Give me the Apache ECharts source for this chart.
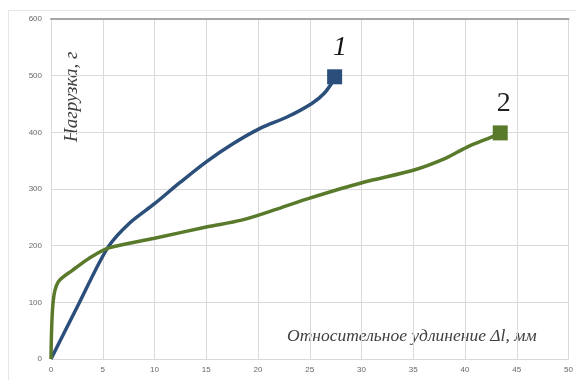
<!DOCTYPE html>
<html><head><meta charset="utf-8">
<script src="https://cdn.jsdelivr.net/npm/echarts@6/dist/echarts.min.js"></script>
<style>html,body{margin:0;padding:0;background:#fff}#c{width:576px;height:380px}</style>
</head><body><div id="c"></div>
<script>
const s1x = [0, 2.7, 5.5, 7.6, 10, 12.5, 15, 17.5, 20.2, 22.8, 25.2, 26.4, 27.3];
const s1y = [0, 98, 197, 240, 274, 312, 348, 379, 407, 427, 451, 469, 492];
const s1end = [27.4, 498];
const s2x = [0, 0.2, 0.7, 2.1, 3.7, 5.6, 10, 15, 18.4, 21.9, 25, 30.2, 35, 38.1, 40.2, 42.6];
const s2y = [0, 100, 136, 157, 178, 196, 213, 233, 245, 265, 284, 312, 333, 354, 374, 392];
const s2end = [43.4, 399];
const xTicks = [0, 5, 10, 15, 20, 25, 30, 35, 40, 45, 50];
const yTicks = [0, 100, 200, 300, 400, 500, 600];
const labels = ['1', '2'];
const xName = 'Относительное удлинение Δl, мм';
const yName = 'Нагрузка, г';

const blue = '#2b4f7a', green = '#5a7a2b';
const chart = echarts.init(document.getElementById('c'));
const pairs = (xs, ys) => xs.map((x, i) => [x, ys[i]]);
const serif = '"Liberation Serif", "DejaVu Serif", serif';
chart.setOption({
  animation: false,
  grid: { left: 51, right: 2, top: 19, bottom: 21 },
  xAxis: [{
    type: 'value', min: 0, max: 50, interval: 5,
    axisLine: { show: false }, axisTick: { show: false },
    axisLabel: { fontSize: 8, color: '#666', margin: 7 },
    splitLine: { lineStyle: { color: '#d9d9d9', width: 1 } }
  }, {
    type: 'value', position: 'top', min: 0, max: 50,
    axisLine: { show: true, onZero: false, lineStyle: { color: '#a6a6a6', width: 2 } },
    axisTick: { show: false }, axisLabel: { show: false }, splitLine: { show: false }
  }],
  yAxis: {
    type: 'value', min: 0, max: 600, interval: 100,
    axisLine: { show: false }, axisTick: { show: false },
    axisLabel: { fontSize: 8, color: '#666', margin: 9 },
    splitLine: { lineStyle: { color: '#d9d9d9', width: 1 } }
  },
  graphic: [
    { type: 'rect', shape: { x: 8.5, y: 10.5, width: 580, height: 380 }, style: { fill: 'none', stroke: '#e6e6e6', lineWidth: 1 }, z: -1 },
    { type: 'text', left: 287, top: 327, style: { text: xName, font: 'italic 17.5px ' + serif, fill: '#404040' } },
    { type: 'text', x: 62, y: 142, rotation: Math.PI / 2, style: { text: yName, font: 'italic 19px ' + serif, fill: '#404040' } }
  ],
  series: [
    { type: 'line', smooth: 0.3, symbol: 'none', data: pairs(s1x, s1y).concat([s1end]), lineStyle: { color: blue, width: 3.5 } },
    { type: 'line', smooth: 0.3, symbol: 'none', data: pairs(s2x, s2y).concat([s2end]), lineStyle: { color: green, width: 3.5 } },
    { type: 'scatter', symbol: 'rect', symbolSize: 15, data: [s1end], itemStyle: { color: blue, opacity: 1 },
      label: { show: true, formatter: labels[0], position: [6, -36], fontSize: 28, fontStyle: 'italic', fontFamily: serif, color: '#111' } },
    { type: 'scatter', symbol: 'rect', symbolSize: 15, data: [s2end], itemStyle: { color: green, opacity: 1 },
      label: { show: true, formatter: labels[1], position: [4, -36], fontSize: 28, fontFamily: serif, color: '#222' } }
  ]
});
</script></body></html>
